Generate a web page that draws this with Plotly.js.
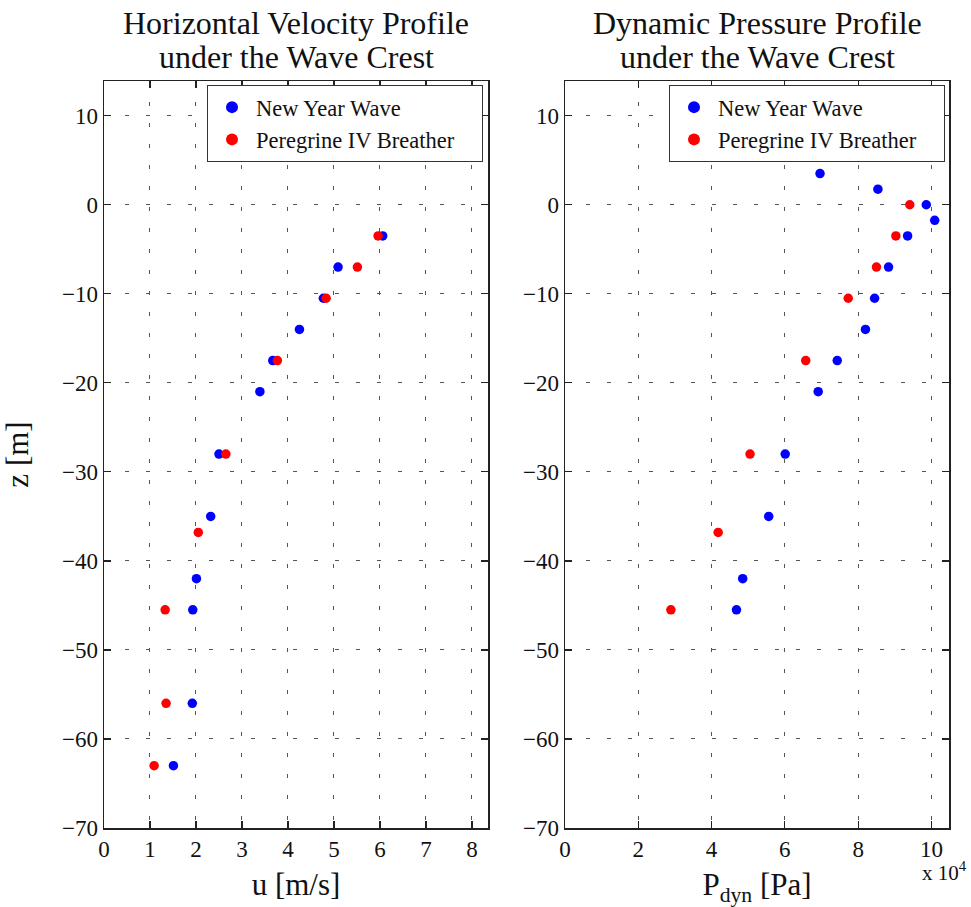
<!DOCTYPE html>
<html>
<head>
<meta charset="utf-8">
<script src="https://cdn.plot.ly/plotly-3.0.1.min.js"></script>
<style>
  html, body { margin: 0; padding: 0; background: #ffffff; }
  #chart { width: 971px; height: 907px; }
</style>
</head>
<body>
<div id="chart"></div>
<script>
// ---- Data ----
// Left panel: horizontal velocity u [m/s] vs depth z [m]
var zU_newYear = [-3.5, -7, -10.5, -14, -17.5, -21, -28, -35, -42, -45.5, -56, -63];
var u_newYear  = [6.06, 5.09, 4.77, 4.25, 3.67, 3.39, 2.50, 2.32, 2.01, 1.93, 1.92, 1.51];
var zU_peregrine = [-3.5, -7, -10.5, -17.5, -28, -36.8, -45.5, -56, -63];
var u_peregrine  = [5.96, 5.51, 4.83, 3.77, 2.65, 2.05, 1.33, 1.35, 1.09];

// Right panel: dynamic pressure P_dyn in units of 10^4 Pa vs depth z [m]
var zP_newYear = [3.5, 1.75, 0, -1.75, -3.5, -7, -10.5, -14, -17.5, -21, -28, -35, -42, -45.5];
var p_newYear  = [6.96, 8.54, 9.86, 10.09, 9.35, 8.83, 8.45, 8.20, 7.43, 6.91, 6.01, 5.56, 4.85, 4.68];
var zP_peregrine = [0, -3.5, -7, -10.5, -17.5, -28, -36.8, -45.5];
var p_peregrine  = [9.41, 9.03, 8.50, 7.73, 6.57, 5.05, 4.18, 2.89];

var seriesNames = ["New Year Wave", "Peregrine IV Breather"];
var titleLines1 = ["Horizontal Velocity Profile", "under the Wave Crest"];
var titleLines2 = ["Dynamic Pressure Profile", "under the Wave Crest"];

// ---- Styling ----
var W = 971, H = 907;
var FONT = "Liberation Serif, Times New Roman, serif";
var BLUE = "#0000ff", RED = "#ff0000";
var MS = 9.5;
var PAD = "\u00a0\u00a0\u00a0\u00a0";  // right padding inside the legend box

function px(x) { return x / W; }
function py(y) { return 1 - y / H; }

var traces = [
  {x: u_newYear, y: zU_newYear, name: seriesNames[0], type: "scatter", mode: "markers",
   marker: {color: BLUE, size: MS}, xaxis: "x", yaxis: "y", legend: "legend"},
  {x: u_peregrine, y: zU_peregrine, name: seriesNames[1] + PAD, type: "scatter", mode: "markers",
   marker: {color: RED, size: MS}, xaxis: "x", yaxis: "y", legend: "legend"},
  {x: p_newYear, y: zP_newYear, name: seriesNames[0], type: "scatter", mode: "markers",
   marker: {color: BLUE, size: MS}, xaxis: "x2", yaxis: "y2", legend: "legend2"},
  {x: p_peregrine, y: zP_peregrine, name: seriesNames[1] + PAD, type: "scatter", mode: "markers",
   marker: {color: RED, size: MS}, xaxis: "x2", yaxis: "y2", legend: "legend2"}
];

var axisCommon = {
  showline: true, linecolor: "#222", linewidth: 1.5, mirror: "ticks",
  ticks: "inside", ticklen: 7, tickwidth: 1.2, tickcolor: "#222",
  showgrid: true, gridcolor: "#555", gridwidth: 1, griddash: "4px,17px",
  zeroline: false, tickfont: {family: FONT, size: 23, color: "#111"},
  fixedrange: true
};

function ax(extra) { return Object.assign({}, axisCommon, extra); }

var yTop = 81, yBot = 828;
var L1 = 104, R1 = 488, L2 = 565, R2 = 949;

var legendCommon = {
  yanchor: "top", xanchor: "right", bgcolor: "#ffffff",
  bordercolor: "#333", borderwidth: 1,
  font: {family: FONT, size: 22.5, color: "#111"},
  tracegroupgap: 0, itemsizing: "constant", itemwidth: 38
};

var titleFont = {family: FONT, size: 32, color: "#111"};
function titleAnn(text, cx, cy) {
  return {text: text, xref: "paper", yref: "paper", x: px(cx), y: py(cy),
          xanchor: "center", yanchor: "middle", showarrow: false, font: titleFont};
}

var layout = {
  width: W, height: H,
  margin: {l: 0, r: 0, t: 0, b: 0},
  paper_bgcolor: "#ffffff", plot_bgcolor: "#ffffff",
  font: {family: FONT, color: "#111"},
  showlegend: true,
  xaxis: ax({domain: [px(L1), px(R1)], range: [0, 8.35], tickvals: [0,1,2,3,4,5,6,7,8],
    anchor: "y",
    title: {text: "u [m/s]", font: {family: FONT, size: 31, color: "#111"}, standoff: 12}}),
  yaxis: ax({domain: [py(yBot), py(yTop)], range: [-70, 13.9],
    tickvals: [-70,-60,-50,-40,-30,-20,-10,0,10], anchor: "x",
    title: {text: "z [m]", font: {family: FONT, size: 31, color: "#111"}, standoff: 24}}),
  xaxis2: ax({domain: [px(L2), px(R2)], range: [0, 10.48], tickvals: [0,2,4,6,8,10],
    anchor: "y2",
    title: {text: "P<sub>dyn</sub> [Pa]", font: {family: FONT, size: 31, color: "#111"}, standoff: 12}}),
  yaxis2: ax({domain: [py(yBot), py(yTop)], range: [-70, 13.9],
    tickvals: [-70,-60,-50,-40,-30,-20,-10,0,10], anchor: "x2"}),
  legend: Object.assign({}, legendCommon, {x: px(483), y: py(85)}),
  legend2: Object.assign({}, legendCommon, {x: px(945), y: py(85)}),
  annotations: [
    titleAnn(titleLines1[0], (L1 + R1) / 2, 23),
    titleAnn(titleLines1[1], (L1 + R1) / 2, 57),
    titleAnn(titleLines2[0], (L2 + R2) / 2, 23),
    titleAnn(titleLines2[1], (L2 + R2) / 2, 57),
    {text: "x 10<sup>4</sup>", xref: "paper", yref: "paper", x: px(969), y: py(887),
     xanchor: "right", yanchor: "bottom", showarrow: false,
     font: {family: FONT, size: 21, color: "#111"}}
  ]
};

Plotly.newPlot("chart", traces, layout, {displayModeBar: false, staticPlot: true});
</script>
</body>
</html>
